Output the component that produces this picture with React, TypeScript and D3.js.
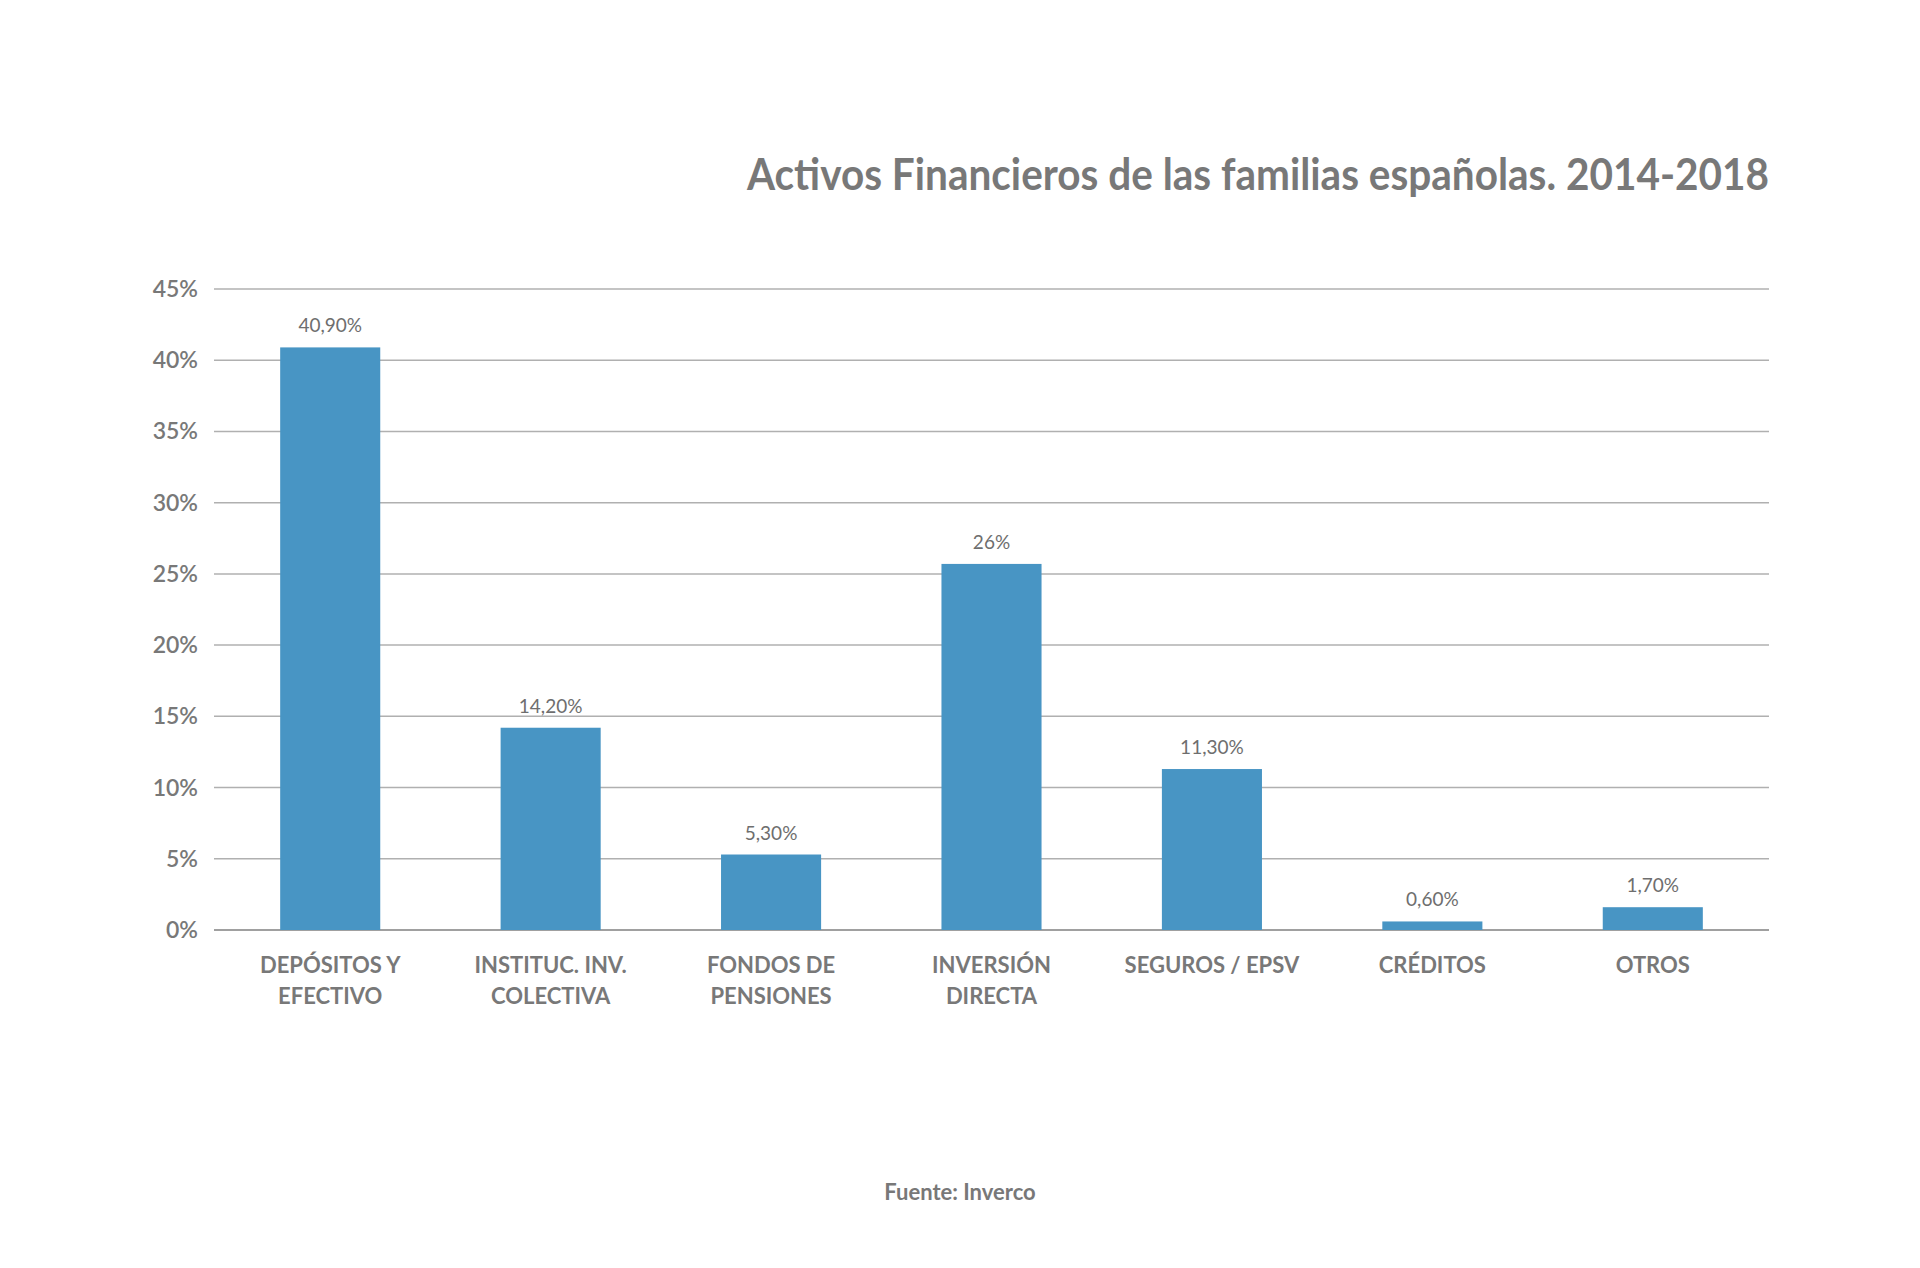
import React, { useEffect, useRef } from 'react';
import * as d3 from 'd3';

const categories = [
  ['DEPÓSITOS Y', 'EFECTIVO'],
  ['INSTITUC. INV.', 'COLECTIVA'],
  ['FONDOS DE', 'PENSIONES'],
  ['INVERSIÓN', 'DIRECTA'],
  ['SEGUROS / EPSV'],
  ['CRÉDITOS'],
  ['OTROS'],
];
const values = [40.9, 14.2, 5.3, 25.7, 11.3, 0.6, 1.6];
const valueLabels = ['40,90%', '14,20%', '5,30%', '26%', '11,30%', '0,60%', '1,70%'];
const yTicks = [0, 5, 10, 15, 20, 25, 30, 35, 40, 45];

const TITLE = 'Activos Financieros de las familias españolas. 2014-2018';
const SOURCE = 'Fuente: Inverco';

const W = 1920;
const H = 1268;
const FONT = 'Lato, "Open Sans", sans-serif';
const GREY = '#787878';

export default function App() {
  const svgRef = useRef<SVGSVGElement>(null);

  useEffect(() => {
    document.body.style.margin = '0';
    if (!svgRef.current) return;

    const svg = d3.select(svgRef.current);
    svg.selectAll('*').remove();

    const gridLeft = 214;
    const gridRight = 1769;

    const x = d3.scaleBand<number>()
      .domain(d3.range(values.length))
      .range([220, 1763])
      .paddingInner(0.546)
      .paddingOuter(0.273);

    const y = d3.scaleLinear()
      .domain([0, 45])
      .range([930, 289]);

    // Title
    svg.append('text')
      .attr('x', gridRight)
      .attr('y', 190)
      .attr('text-anchor', 'end')
      .attr('font-family', FONT)
      .attr('font-size', 44)
      .attr('font-weight', 700)
      .attr('fill', GREY)
      .attr('textLength', 1022)
      .attr('lengthAdjust', 'spacingAndGlyphs')
      .text(TITLE);

    // Grid lines + y labels
    const grid = svg.append('g');
    yTicks.forEach(t => {
      grid.append('line')
        .attr('x1', gridLeft)
        .attr('x2', gridRight)
        .attr('y1', y(t))
        .attr('y2', y(t))
        .attr('stroke', t === 0 ? '#a0a0a0' : '#b0b0b0')
        .attr('stroke-width', t === 0 ? 2 : 1.5);

      grid.append('text')
        .attr('x', 198)
        .attr('y', y(t))
        .attr('dy', '0.35em')
        .attr('text-anchor', 'end')
        .attr('font-family', FONT)
        .attr('font-size', 23)
        .attr('font-weight', 600)
        .attr('fill', GREY)
        .text(`${t}%`);
    });

    // Bars
    const bars = svg.append('g');
    values.forEach((v, i) => {
      bars.append('rect')
        .attr('x', x(i)!)
        .attr('y', y(v))
        .attr('width', x.bandwidth())
        .attr('height', y(0) - y(v))
        .attr('fill', '#4895c4');

      bars.append('text')
        .attr('x', x(i)! + x.bandwidth() / 2)
        .attr('y', y(v) - 15)
        .attr('text-anchor', 'middle')
        .attr('font-family', FONT)
        .attr('font-size', 19)
        .attr('font-weight', 400)
        .attr('fill', '#6e6e6e')
        .text(valueLabels[i]);
    });

    // Category labels
    const cats = svg.append('g');
    categories.forEach((lines, i) => {
      const t = cats.append('text')
        .attr('x', x(i)! + x.bandwidth() / 2)
        .attr('y', 973)
        .attr('text-anchor', 'middle')
        .attr('font-family', FONT)
        .attr('font-size', 22)
        .attr('font-weight', 700)
        .attr('fill', GREY);
      lines.forEach((line, j) => {
        t.append('tspan')
          .attr('x', x(i)! + x.bandwidth() / 2)
          .attr('dy', j === 0 ? 0 : 31)
          .text(line);
      });
    });

    // Source
    svg.append('text')
      .attr('x', 960)
      .attr('y', 1200)
      .attr('text-anchor', 'middle')
      .attr('font-family', FONT)
      .attr('font-size', 22)
      .attr('font-weight', 700)
      .attr('fill', GREY)
      .text(SOURCE);
  }, []);

  return (
    <svg ref={svgRef} width={W} height={H} style={{ display: 'block', background: '#fff' }} />
  );
}
